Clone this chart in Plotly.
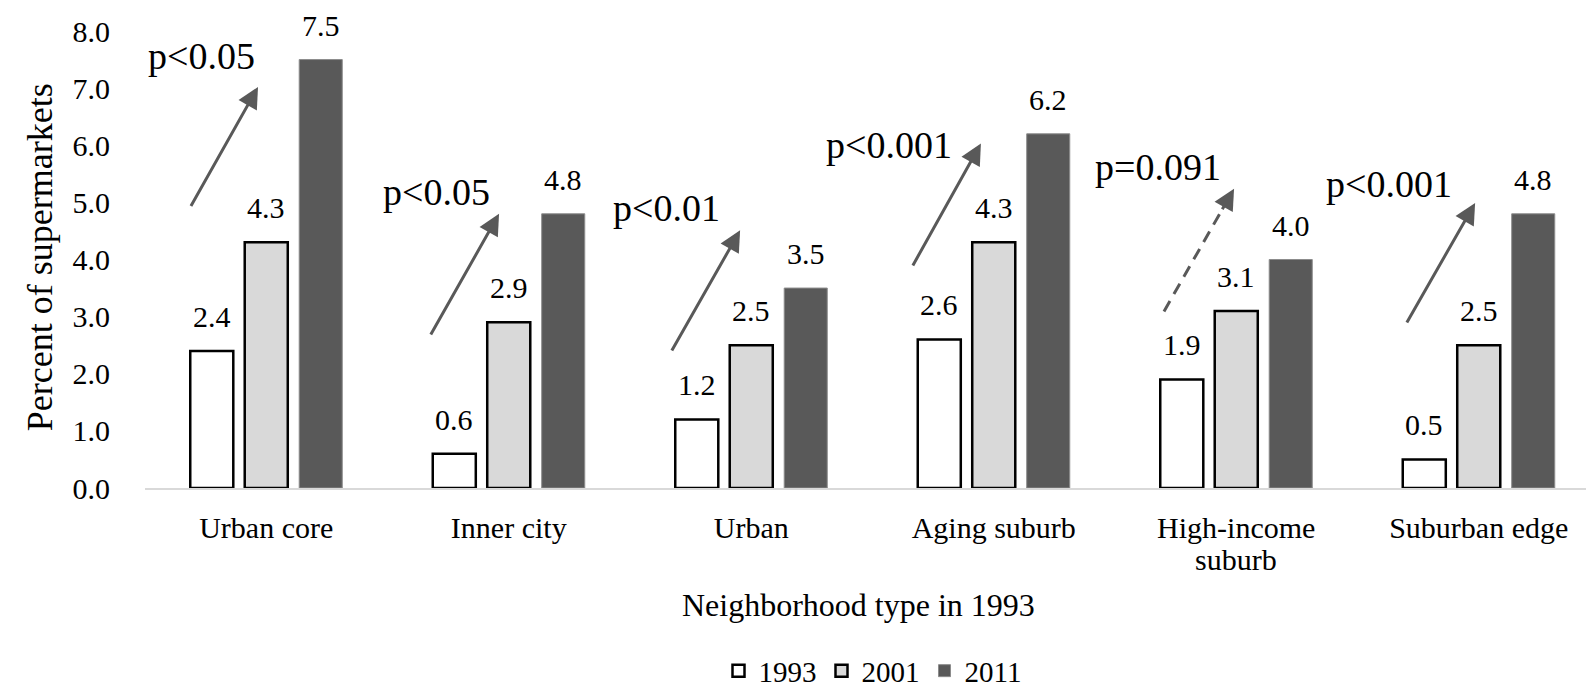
import plotly.graph_objects as go

categories = ["Urban core", "Inner city", "Urban", "Aging suburb", "High-income", "Suburban edge"]
years = ["1993", "2001", "2011"]
v1993 = [2.4, 0.6, 1.2, 2.6, 1.9, 0.5]
v2001 = [4.3, 2.9, 2.5, 4.3, 3.1, 2.5]
v2011 = [7.5, 4.8, 3.5, 6.2, 4.0, 4.8]
p_labels = ["p<0.05", "p<0.05", "p<0.01", "p<0.001", "p=0.091", "p<0.001"]
dashed = [False, False, False, False, True, False]
# arrow tail/head (offset from category centre, y value) and label position
arrow_tail = [(-0.314, 4.91), (-0.325, 2.66), (-0.331, 2.38), (-0.337, 3.87), (-0.298, 3.09), (-0.30, 2.87)]
arrow_head = [(-0.034, 7.02), (-0.040, 4.80), (-0.046, 4.51), (-0.053, 6.03), (-0.009, 5.24), (-0.015, 4.99)]
p_pos = [(-0.265, 7.57), (-0.298, 5.18), (-0.350, 4.91), (-0.432, 6.01), (-0.323, 5.62), (-0.37, 5.32)]

FONT = "Liberation Serif"
BARGAP = 0.326
BARGROUPGAP = 0.21
ARROW = "#595959"

x = list(range(len(categories)))
series = [v1993, v2001, v2011]
fills = ["#ffffff", "#d9d9d9", "#595959"]
lines = ["#000000", "#000000", "#8c8c8c"]
lws = [2.5, 2.5, 1]

fig = go.Figure()
for name, vals, fc, lc, lw in zip(years, series, fills, lines, lws):
    fig.add_trace(go.Bar(x=x, y=vals, name=name, marker=dict(color=fc, line=dict(color=lc, width=lw))))

annotations = []
slot = (1 - BARGAP) / 3
for k, vals in enumerate(series):
    for i, v in enumerate(vals):
        annotations.append(dict(x=i + (k - 1) * slot, y=v, xref="x", yref="y", text=f"{v:.1f}",
                                showarrow=False, yanchor="bottom", yshift=16,
                                font=dict(family=FONT, size=30, color="#000")))

shapes = []
for i in x:
    tx, ty = arrow_tail[i]
    hx, hy = arrow_head[i]
    if dashed[i]:
        bx = hx + 0.18 * (tx - hx)
        by = hy + 0.18 * (ty - hy)
        shapes.append(dict(type="line", xref="x", yref="y", x0=i + tx, y0=ty, x1=i + bx, y1=by,
                           line=dict(color=ARROW, width=3, dash="12px,8px")))
        annotations.append(dict(x=i + hx, y=hy, ax=i + bx, ay=by, xref="x", yref="y", axref="x", ayref="y",
                                text="", showarrow=True, arrowhead=2, arrowsize=1.4, arrowwidth=3,
                                arrowcolor=ARROW, standoff=0, startstandoff=0))
    else:
        annotations.append(dict(x=i + hx, y=hy, ax=i + tx, ay=ty, xref="x", yref="y", axref="x", ayref="y",
                                text="", showarrow=True, arrowhead=2, arrowsize=1.4, arrowwidth=3,
                                arrowcolor=ARROW, standoff=0, startstandoff=0))
    px_, py_ = p_pos[i]
    annotations.append(dict(x=i + px_, y=py_, xref="x", yref="y", text=p_labels[i], showarrow=False,
                            font=dict(family=FONT, size=38, color="#000")))

# second line of the two-line category label
annotations.append(dict(x=4, y=-0.157, xref="x", yref="paper", text="suburb", showarrow=False,
                        yanchor="middle", font=dict(family=FONT, size=30, color="#000")))
annotations.append(dict(x=-0.0722, y=0.505, xref="paper", yref="paper", text="Percent of supermarkets",
                        textangle=-90, showarrow=False, xanchor="center", yanchor="middle",
                        font=dict(family=FONT, size=36, color="#000")))
annotations.append(dict(x=0.4907, y=-0.256, xref="paper", yref="paper", text="Neighborhood type in 1993",
                        showarrow=False, xanchor="center", yanchor="middle",
                        font=dict(family=FONT, size=32, color="#000")))

fig.update_layout(
    width=1594, height=691,
    margin=dict(l=137, r=2, t=23, b=205),
    plot_bgcolor="#ffffff", paper_bgcolor="#ffffff",
    barmode="group", bargap=BARGAP, bargroupgap=BARGROUPGAP,
    font=dict(family=FONT, size=30, color="#000"),
    showlegend=True,
    legend=dict(orientation="h", x=0.5, xanchor="center", y=-0.40, yanchor="middle",
                font=dict(family=FONT, size=29, color="#000"), itemclick=False),
    annotations=annotations, shapes=shapes,
    xaxis=dict(range=[-0.5, 5.5], tickvals=x, ticktext=categories, showgrid=False, zeroline=False,
               showline=True, linecolor="#d9d9d9", linewidth=2, ticks="outside", ticklen=12,
               tickcolor="rgba(0,0,0,0)", tickfont=dict(family=FONT, size=30)),
    yaxis=dict(range=[0, 8], dtick=1, tickformat=".1f", showgrid=False, zeroline=False, showline=False,
               ticks="outside", ticklen=28, tickcolor="rgba(0,0,0,0)", tickfont=dict(family=FONT, size=30)),
)

fig.write_html("out.html")
